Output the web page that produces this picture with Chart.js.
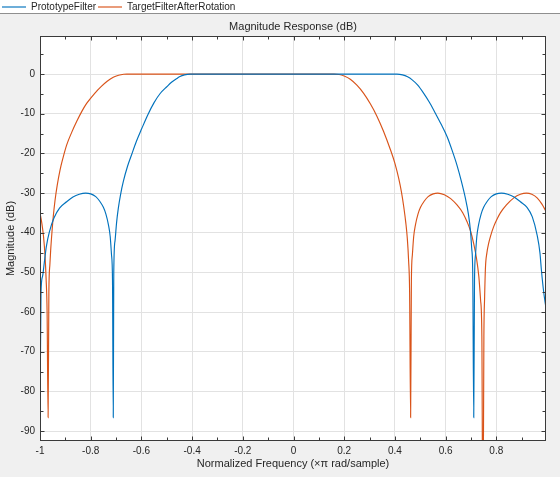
<!DOCTYPE html>
<html>
<head>
<meta charset="utf-8">
<script src="https://cdn.jsdelivr.net/npm/chart.js@4.4.1/dist/chart.umd.min.js"></script>
<style>
html,body{margin:0;padding:0;background:#f0f0f0;}
canvas{display:block;}
</style>
</head>
<body>
<canvas id="c" width="560" height="477"></canvas>
<script>
// ---- data ----
const seriesNames = ['PrototypeFilter', 'TargetFilterAfterRotation'];

const protoFreq = [
  -1, -0.996, -0.99, -0.983, -0.975, -0.963, -0.945, -0.923, -0.895, -0.87,
  -0.845, -0.82, -0.8, -0.78, -0.765, -0.75, -0.74, -0.73, -0.723, -0.718,
  -0.714, -0.711, -0.709, -0.704, -0.698, -0.691, -0.682, -0.671, -0.655, -0.638,
  -0.62, -0.599, -0.575, -0.55, -0.526, -0.5, -0.48, -0.46, -0.45, -0.43,
  -0.408, -0.2, 0, 0.2, 0.408, 0.43, 0.45, 0.467, 0.49, 0.513,
  0.536, 0.559, 0.582, 0.606, 0.626, 0.645, 0.662, 0.678, 0.69, 0.698,
  0.703, 0.707, 0.711, 0.714, 0.718, 0.723, 0.73, 0.74, 0.75, 0.765,
  0.78, 0.8, 0.82, 0.845, 0.87, 0.895, 0.921, 0.942, 0.961, 0.972,
  0.978, 0.987, 0.996];
const protoMag = [
  -86.6, -55, -51, -47.5, -43.5, -39.8, -36.3, -33.8, -32.2, -31,
  -30.3, -30, -30.2, -30.9, -32, -33.6, -35.3, -38, -41, -45.5,
  -52, -86.6, -50, -42, -37.5, -33.8, -30.3, -27, -23.3, -20.2,
  -17, -13.8, -10.3, -7.2, -4.9, -3.2, -2.0, -1.1, -0.7, -0.2,
  0, 0, 0, 0, 0, -0.2, -0.7, -1.4, -2.8, -4.8,
  -7.1, -9.8, -12.6, -15.8, -19.3, -23, -27, -31.3, -35.3, -39.5,
  -44, -50, -86.6, -52, -45.5, -41, -38, -35.3, -33.6, -32,
  -30.9, -30.2, -30, -30.3, -31, -32.2, -33.6, -36, -40.6, -45,
  -49.5, -55, -59];

const targetFreq = [
  -1, -0.993, -0.986, -0.98, -0.976, -0.972, -0.968, -0.965, -0.961, -0.958,
  -0.953, -0.9475, -0.941, -0.932, -0.921, -0.91, -0.895, -0.875, -0.855, -0.835,
  -0.816, -0.785, -0.758, -0.735, -0.711, -0.69, -0.67, -0.658, -0.4, -0.2,
  0, 0.16, 0.18, 0.2, 0.224, 0.25, 0.276, 0.303, 0.329, 0.355,
  0.382, 0.4, 0.415, 0.426, 0.435, 0.443, 0.449, 0.454, 0.458, 0.462,
  0.465, 0.469, 0.474, 0.481, 0.491, 0.501, 0.516, 0.531, 0.551, 0.569,
  0.595, 0.62, 0.645, 0.668, 0.685, 0.698, 0.711, 0.722, 0.731, 0.738,
  0.743, 0.747, 0.751, 0.754, 0.757, 0.763, 0.77, 0.777, 0.79, 0.805,
  0.816, 0.84, 0.869, 0.895, 0.919, 0.94, 0.961, 0.98, 0.996];
const targetMag = [
  -35, -37.5, -41, -46, -51.5, -60, -86.6, -55, -48, -44.5,
  -40, -35.8, -32, -28, -24.2, -21.3, -17.9, -14.7, -11.9, -9.4,
  -7.4, -4.9, -3.1, -1.8, -0.8, -0.3, -0.05, 0, 0, 0,
  0, 0, -0.1, -0.5, -1.3, -2.8, -4.8, -7.5, -10.6, -14.4,
  -19, -22.5, -26.3, -29.8, -33.5, -37.5, -41.5, -47, -55, -86.6,
  -52, -45.5, -41, -38, -35.3, -33.6, -32, -30.9, -30.2, -30,
  -30.4, -31.4, -33, -35, -37.3, -39.5, -42.8, -46.5, -51, -57,
  -66, -120, -66, -56, -49, -45, -42.6, -40.9, -38.4, -36.3,
  -35, -33, -31.2, -30.3, -30, -30.3, -31.2, -32.8, -34.6];

const xTickValues = [-1, -0.8, -0.6, -0.4, -0.2, 0, 0.2, 0.4, 0.6, 0.8];
const xMinorTicks = [-0.9, -0.7, -0.5, -0.3, -0.1, 0.1, 0.3, 0.5, 0.7, 0.9];
const yTickValues = [-90, -80, -70, -60, -50, -40, -30, -20, -10, 0];
const yMinorTicks = [-85, -75, -65, -55, -45, -35, -25, -15, -5, 5];

// ---- styling ----
const TEXT = '#262626';
const AXIS = '#3a3a3a';
const GRID = '#e2e2e2';
Chart.defaults.font.family = "'Liberation Sans', Arial, Helvetica, sans-serif";
Chart.defaults.color = TEXT;

const framePlugin = {
  id: 'frame',
  beforeDraw(chart) {
    const {ctx, chartArea: a, width, height} = chart;
    ctx.save();
    ctx.fillStyle = '#f0f0f0';
    ctx.fillRect(0, 0, width, height);
    const lg = chart.legend;
    const lb = Math.round(lg.bottom);
    ctx.fillStyle = '#ffffff';
    ctx.fillRect(0, 0, width, lb);
    ctx.strokeStyle = '#8f8f8f';
    ctx.lineWidth = 1;
    ctx.beginPath();
    ctx.moveTo(0, lb - 0.5);
    ctx.lineTo(width, lb - 0.5);
    ctx.stroke();
    ctx.fillStyle = '#ffffff';
    ctx.fillRect(a.left, a.top, a.right - a.left, a.bottom - a.top);
    ctx.restore();
  },
  afterDatasetsDraw(chart) {
    const {ctx, chartArea: a} = chart;
    const xs = chart.scales.x, ys = chart.scales.y;
    const L = Math.round(a.left) + 0.5, R = Math.round(a.right) - 0.5;
    const T = Math.round(a.top) + 0.5, B = Math.round(a.bottom) - 0.5;
    ctx.save();
    ctx.strokeStyle = AXIS;
    ctx.lineWidth = 1;
    ctx.strokeRect(L, T, R - L, B - T);
    ctx.beginPath();
    const xt = (vals, len) => vals.forEach(v => {
      if (v < xs.min || v > xs.max) return;
      const p = Math.round(xs.getPixelForValue(v)) + 0.5;
      ctx.moveTo(p, B); ctx.lineTo(p, B - len);
      ctx.moveTo(p, T); ctx.lineTo(p, T + len);
    });
    const yt = (vals, len) => vals.forEach(v => {
      if (v < ys.min || v > ys.max) return;
      const p = Math.round(ys.getPixelForValue(v)) + 0.5;
      ctx.moveTo(L, p); ctx.lineTo(L + len, p);
      ctx.moveTo(R, p); ctx.lineTo(R - len, p);
    });
    xt(xTickValues, 4); xt(xMinorTicks, 3);
    yt(yTickValues, 4); yt(yMinorTicks, 3);
    ctx.stroke();
    ctx.restore();
  }
};

new Chart(document.getElementById('c'), {
  type: 'line',
  data: {
    datasets: [
      {
        label: seriesNames[0],
        data: protoFreq.map((x, i) => ({x: x, y: protoMag[i]})),
        borderColor: '#0072BD',
        backgroundColor: '#0072BD',
        borderWidth: 1.15,
        pointRadius: 0,
        cubicInterpolationMode: 'monotone',
        fill: false
      },
      {
        label: seriesNames[1],
        data: targetFreq.map((x, i) => ({x: x, y: targetMag[i]})),
        borderColor: '#D95319',
        backgroundColor: '#D95319',
        borderWidth: 1.15,
        pointRadius: 0,
        cubicInterpolationMode: 'monotone',
        fill: false
      }
    ]
  },
  options: {
    responsive: false,
    animation: false,
    events: [],
    layout: {padding: {left: 0, right: 14, top: 0, bottom: 0}},
    plugins: {
      legend: {
        display: true,
        position: 'top',
        align: 'start',
        weight: 1000,
        maxHeight: 14,
        labels: {
          usePointStyle: true,
          pointStyle: 'line',
          pointStyleWidth: 24,
          padding: 2,
          color: TEXT,
          font: {size: 10}
        }
      },
      title: {
        display: true,
        text: 'Magnitude Response (dB)',
        fullSize: false,
        weight: 500,
        color: TEXT,
        font: {size: 11, weight: 'normal'},
        padding: {top: 6, bottom: 2.8}
      },
      tooltip: {enabled: false}
    },
    scales: {
      x: {
        type: 'linear',
        min: -1,
        max: 0.996,
        afterBuildTicks: s => { s.ticks = xTickValues.map(v => ({value: v})); },
        afterFit: s => { s.height = 36; },
        grid: {color: GRID, lineWidth: 1, drawTicks: false},
        border: {display: false},
        ticks: {padding: 4, color: TEXT, font: {size: 10}, maxRotation: 0, autoSkip: false,
                callback: v => String(v)},
        title: {display: true, text: 'Normalized Frequency (\u00d7\u03c0 rad/sample)', color: TEXT,
                font: {size: 11}, padding: {top: 0, bottom: 6}}
      },
      y: {
        type: 'linear',
        min: -92.5,
        max: 9.6,
        afterBuildTicks: s => { s.ticks = yTickValues.map(v => ({value: v})); },
        afterFit: s => { s.width = 40; },
        grid: {color: GRID, lineWidth: 1, drawTicks: false},
        border: {display: false},
        ticks: {padding: 5, color: TEXT, font: {size: 10}, autoSkip: false,
                callback: v => String(v)},
        title: {display: true, text: 'Magnitude (dB)', color: TEXT,
                font: {size: 11}, padding: {top: 4, bottom: 0}}
      }
    }
  },
  plugins: [framePlugin]
});
</script>
</body>
</html>
